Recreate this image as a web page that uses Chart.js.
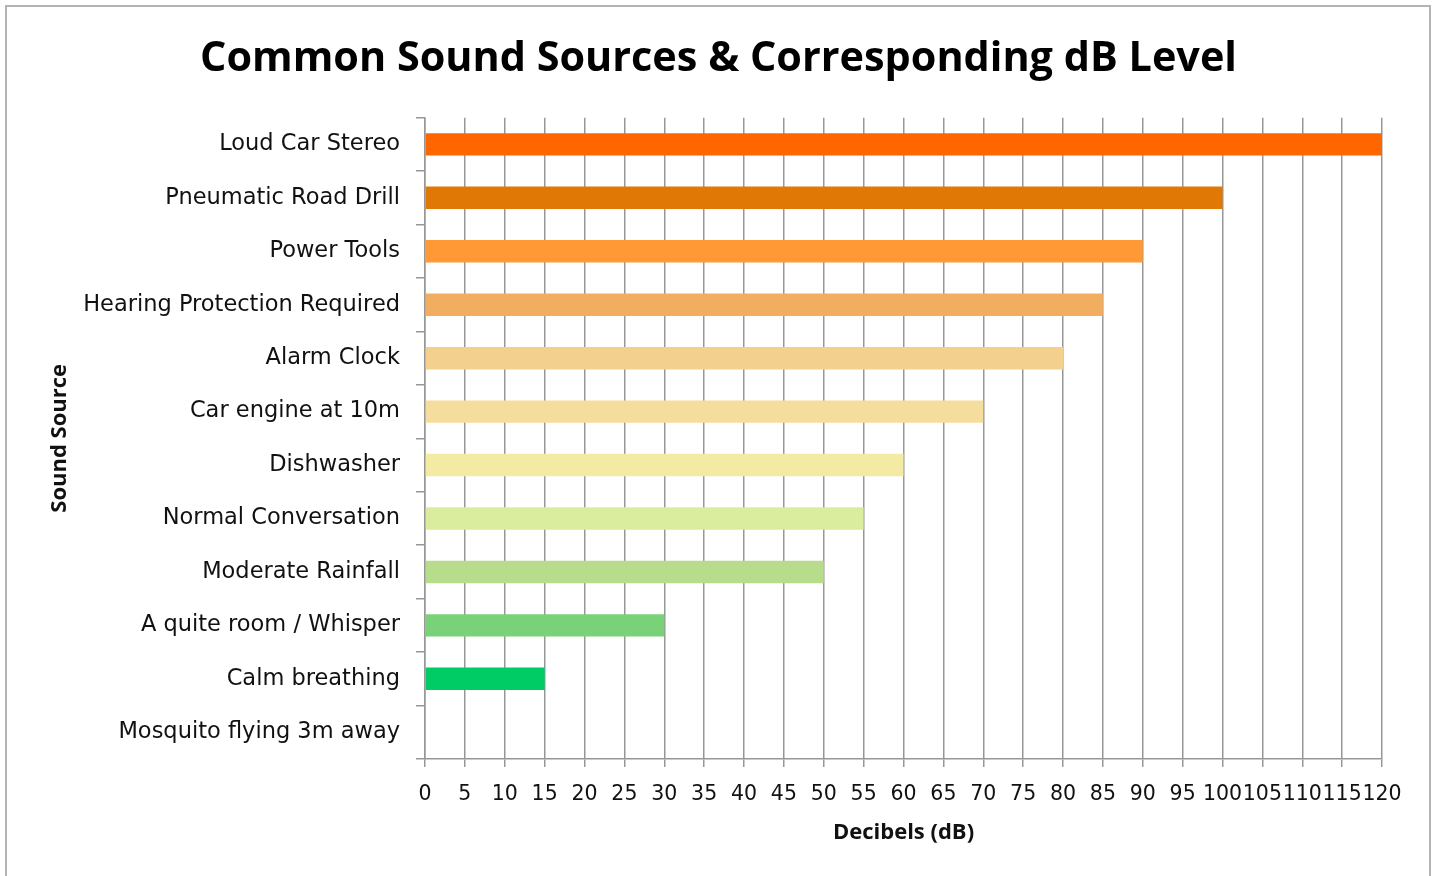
<!DOCTYPE html>
<html>
<head>
<meta charset="utf-8">
<script src="https://cdn.jsdelivr.net/npm/chart.js@4/dist/chart.umd.min.js"></script>
<style>
  html, body { margin: 0; padding: 0; background: #fff; overflow: hidden; }
  #frame { position: absolute; left: 5px; top: 5px; width: 1426px; height: 900px;
           border: 2px solid #b4b4b4; background: #fff; box-sizing: border-box; }
  #chart { position: absolute; left: 0; top: 0; z-index: 1; }
</style>
</head>
<body>
<div id="frame"></div>
<canvas id="chart" width="1437" height="876"></canvas>
<script>
// Sound sources, loudest first (drawn top to bottom)
const sources = [
  'Loud Car Stereo',
  'Pneumatic Road Drill',
  'Power Tools',
  'Hearing Protection Required',
  'Alarm Clock',
  'Car engine at 10m',
  'Dishwasher',
  'Normal Conversation',
  'Moderate Rainfall',
  'A quite room / Whisper',
  'Calm breathing',
  'Mosquito flying 3m away'
];
// Level of each source in decibels
const decibels = [120, 100, 90, 85, 80, 70, 60, 55, 50, 30, 15, 0];
// Fill per bar, from hot orange down to green
const barColors = [
  '#FF6600', '#E07806', '#FE9935', '#F1AD60', '#F3D08D', '#F5DD9E',
  '#F3EBA4', '#DAEC9E', '#B7DC8C', '#79D277', '#00CC66', '#00CC66'
];
// Decibel axis range and step
const dbMin = 0, dbMax = 120, dbStep = 5;

const gridGray = '#979797';

new Chart(document.getElementById('chart'), {
  type: 'bar',
  data: {
    labels: sources,
    datasets: [{
      data: decibels,
      backgroundColor: barColors,
      borderWidth: 0,
      barPercentage: 0.42,
      categoryPercentage: 1.0
    }]
  },
  options: {
    indexAxis: 'y',
    responsive: false,
    animation: false,
    devicePixelRatio: 1,
    layout: { padding: 0 },
    plugins: {
      legend: { display: false },
      tooltip: { enabled: false },
      title: {
        display: true,
        text: 'Common Sound Sources & Corresponding dB Level',
        color: '#000',
        font: { family: 'Open Sans', weight: 'bold', size: 41.4, lineHeight: 1.2 },
        padding: { top: 34, bottom: 34 }
      }
    },
    scales: {
      x: {
        type: 'linear',
        min: dbMin,
        max: dbMax,
        afterFit: (s) => { s.height = 117; s.paddingRight = 55; },
        ticks: {
          stepSize: dbStep,
          autoSkip: false,
          maxRotation: 0,
          minRotation: 0,
          padding: 15,
          color: '#111',
          font: { family: 'DejaVu Sans', size: 20.5 }
        },
        grid: {
          color: gridGray,
          lineWidth: 1.5,
          tickLength: 8,
          drawTicks: true
        },
        border: { display: true, color: gridGray, width: 1.5 },
        title: {
          display: true,
          text: 'Decibels (dB)',
          color: '#111',
          font: { family: 'Open Sans', weight: 'bold', size: 22, lineHeight: 1.2 },
          padding: { top: 0, bottom: 30 }
        }
      },
      y: {
        afterFit: (s) => { s.width = 425; },
        ticks: {
          padding: 16,
          color: '#111',
          font: { family: 'DejaVu Sans', size: 22.5 }
        },
        grid: {
          offset: true,
          drawOnChartArea: false,
          drawTicks: true,
          tickLength: 9,
          color: gridGray,
          lineWidth: 1.5
        },
        border: { display: true, color: gridGray, width: 1.5 },
        title: {
          display: true,
          text: 'Sound Source',
          color: '#111',
          font: { family: 'Open Sans', weight: 'bold', size: 22, lineHeight: 1.2 },
          padding: { top: 47, bottom: 0 }
        }
      }
    }
  }
});
</script>
</body>
</html>
